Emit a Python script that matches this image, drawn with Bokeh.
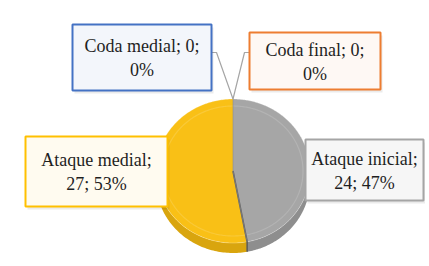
import numpy as np
from bokeh.plotting import figure
from bokeh.models import Range1d
from bokeh.core.properties import value
from bokeh.embed import file_html
from bokeh.resources import INLINE

# ---- data ----
categories = ["Ataque inicial", "Ataque medial", "Coda medial", "Coda final"]
values = [24, 27, 0, 0]
label_line1 = ["Ataque inicial;", "Ataque medial;", "Coda medial; 0;", "Coda final; 0;"]
top_colors = ["#A6A6A6", "#F9C016", "#4472C4", "#ED7D31"]
side_colors = ["#8E8E8E", "#D9A50E", "#3A62A8", "#C9692A"]
border_colors = ["#A5A5A5", "#FFC000", "#4472C4", "#ED7D31"]
fill_colors = ["#F6F6F6", "#FFFBF0", "#F3F6FB", "#FEF8F4"]

total = sum(values)
pcts = [round(v / total * 100) for v in values]
label_line2 = []
for c, v, pc in zip(categories, values, pcts):
    if v > 0:
        label_line2.append(f"{v}; {pc}%")
    else:
        label_line2.append(f"{pc}%")

# ---- layout (screen coordinates) ----
cx, cy, rx, ry, depth = 232.5, 170.5, 77.0, 72.0, 10.0
boxes = {  # left, right, top, bottom
    "Ataque inicial": (305, 423, 139, 200),
    "Ataque medial": (25, 167, 136, 206),
    "Coda medial": (72, 211, 24, 90),
    "Coda final": (249, 380, 32, 89),
}

W, H = 425, 262
p = figure(width=W, height=H, x_range=Range1d(0, W), y_range=Range1d(H, 0),
           output_backend="svg", toolbar_location=None, min_border=0,
           x_axis_type=None, y_axis_type=None)
p.grid.visible = False
p.outline_line_color = None
p.background_fill_color = "white"
FONT = value("Liberation Serif")


def pt(theta_deg, dy=0.0):
    t = np.radians(theta_deg)
    return cx + rx * np.sin(t), cy - ry * np.cos(t) + dy


# slice angles, clockwise from 12 o'clock
starts, ends = [], []
acc = 0.0
for v in values:
    a0 = acc
    acc += v / total * 360.0
    starts.append(a0)
    ends.append(acc)

# sides (visible lower half: 90..270 deg)
for i, v in enumerate(values):
    if v == 0:
        continue
    s, e = max(starts[i], 90.0), min(ends[i], 270.0)
    if e <= s:
        continue
    th = np.linspace(s, e, 80)
    xt, yt = pt(th)
    xb, yb = pt(th[::-1], depth)
    p.patch(np.concatenate([xt, xb]), np.concatenate([yt, yb]),
            fill_color=side_colors[i], line_color=None)

# top faces
for i, v in enumerate(values):
    if v == 0:
        continue
    th = np.linspace(starts[i], ends[i], 200)
    xs, ys = pt(th)
    p.patch(np.concatenate([[cx], xs]), np.concatenate([[cy], ys]),
            fill_color=top_colors[i], line_color=None)

# subtle bevel rim
th = np.linspace(0, 360, 361)
t = np.radians(th)
p.line(cx + (rx - 7) * np.sin(t), cy - (ry - 7) * np.cos(t), line_color="white", line_alpha=0.15, line_width=1.2)
p.line(cx + rx * np.sin(t), cy - ry * np.cos(t), line_color="white", line_alpha=0.25, line_width=1)

# slice boundary edge
for i, v in enumerate(values):
    if v == 0:
        continue
    bx, by = pt(ends[i])
    if 90 < ends[i] < 270:
        p.line([cx, bx, bx], [cy, by, by + depth], line_color="#5E5E5E", line_width=1.6)
    bx0, by0 = pt(starts[i])
    p.line([cx, bx0], [cy, by0], line_color="#8C8C8C", line_width=1, line_alpha=0.6)

# leader lines for zero slices
tx, ty = pt(0)
for cat, side in (("Coda medial", "right"), ("Coda final", "left")):
    l, r, tp, bt = boxes[cat]
    yy = 52
    if side == "right":
        p.line([r, r + 5, tx], [yy, yy, ty], line_color="#A5A5A5", line_width=1.2)
    else:
        p.line([l, l - 5, tx], [yy, yy, ty], line_color="#A5A5A5", line_width=1.2)

# label boxes
for i, cat in enumerate(categories):
    l, r, tp, bt = boxes[cat]
    p.quad(left=l + 2, right=r + 2, top=tp + 3, bottom=bt + 3, fill_color="#000000",
           fill_alpha=0.08, line_color=None)
    p.quad(left=l, right=r, top=tp, bottom=bt, fill_color=fill_colors[i],
           line_color=border_colors[i], line_width=2)
    xc = (l + r) / 2
    ymid = (tp + bt) / 2
    p.text([xc], [ymid - 11.5], text=[label_line1[i]], text_align="center", text_baseline="middle",
           text_font=FONT, text_font_size="18px", text_color="#1F1F1F")
    p.text([xc], [ymid + 12.5], text=[label_line2[i]], text_align="center", text_baseline="middle",
           text_font=FONT, text_font_size="18px", text_color="#1F1F1F")

open("out.html", "w").write(file_html(p, INLINE))
